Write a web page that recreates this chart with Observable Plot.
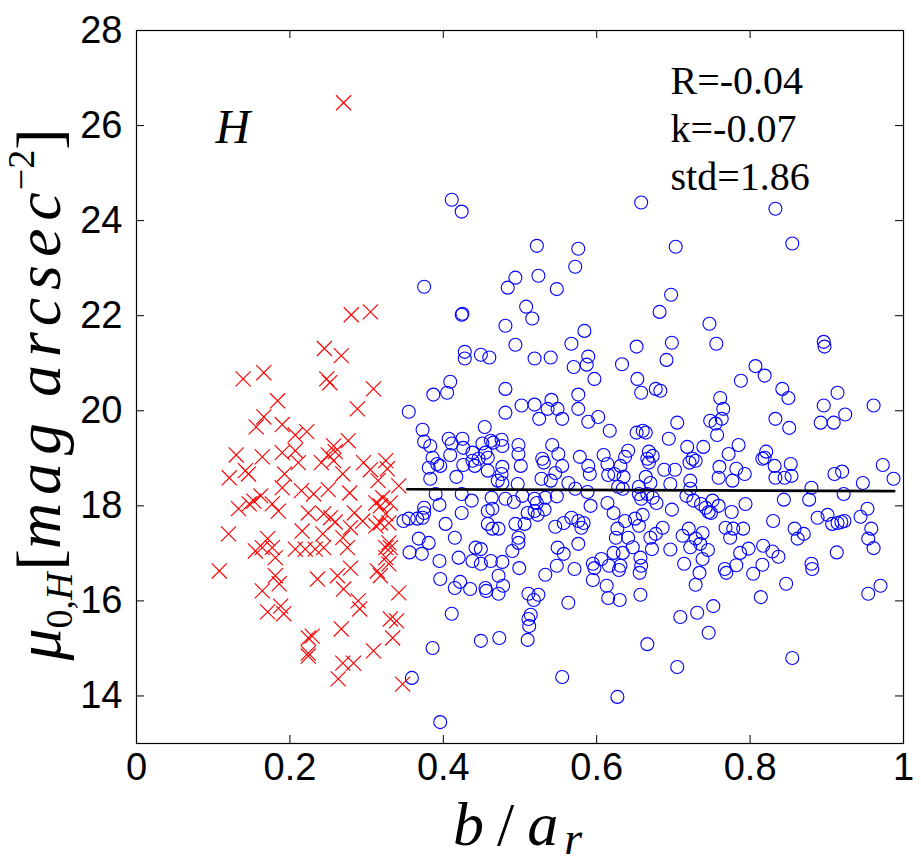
<!DOCTYPE html>
<html><head><meta charset="utf-8">
<script src="https://cdn.jsdelivr.net/npm/d3@7"></script>
<script src="https://cdn.jsdelivr.net/npm/@observablehq/plot@0.6"></script>
<style>body{margin:0;background:#fff}</style>
</head><body><div id="chart"></div>
<script>
const xTicks = [0, 0.2, 0.4, 0.6, 0.8, 1];
const xTickLabels = ["0", "0.2", "0.4", "0.6", "0.8", "1"];
const yTicks = [14, 16, 18, 20, 22, 24, 26, 28];
const statsLines = ["R=-0.04", "k=-0.07", "std=1.86"];
const bandLabel = "H";
const fitX = [0.353, 0.988];
const fitY = [18.35, 18.31];

const redPoints = [
[0.270,26.48],[0.280,22.02],[0.305,22.08],[0.245,21.31],[0.267,21.16],[0.139,20.67],[0.166,20.80],[0.248,20.67],[0.252,20.59],[0.309,20.46],
[0.184,20.21],[0.288,20.04],[0.166,19.87],[0.156,19.66],[0.190,19.71],[0.207,19.49],[0.222,19.56],[0.276,19.37],[0.257,19.26],[0.130,19.07],
[0.164,19.03],[0.190,19.12],[0.207,19.16],[0.211,18.91],[0.250,19.07],[0.259,19.14],[0.241,18.91],[0.257,18.95],[0.296,18.91],[0.121,18.59],
[0.142,18.74],[0.146,18.67],[0.193,18.67],[0.269,18.67],[0.305,18.76],[0.315,18.53],[0.190,18.38],[0.215,18.32],[0.231,18.25],[0.250,18.34],
[0.278,18.27],[0.153,18.10],[0.162,18.21],[0.133,17.94],[0.147,18.04],[0.177,18.04],[0.185,17.89],[0.224,17.85],[0.244,17.83],[0.253,17.75],
[0.259,17.66],[0.284,17.85],[0.295,17.68],[0.279,17.54],[0.312,18.06],[0.312,17.58],[0.120,17.41],[0.216,17.47],[0.243,17.41],[0.269,17.33],
[0.171,17.31],[0.164,17.12],[0.155,17.05],[0.177,17.12],[0.207,17.09],[0.220,17.09],[0.233,17.09],[0.244,17.12],[0.275,17.12],[0.108,16.63],
[0.181,16.91],[0.279,16.69],[0.262,16.53],[0.236,16.46],[0.181,16.53],[0.186,16.36],[0.164,16.21],[0.270,16.25],[0.289,16.00],[0.291,15.83],
[0.171,15.77],[0.188,15.89],[0.192,15.73],[0.267,15.41],[0.224,15.22],[0.229,15.26],[0.224,14.84],[0.224,14.90],[0.269,14.69],[0.283,14.69],
[0.263,14.36],[0.309,14.95],[0.314,16.63],[0.325,16.91],[0.329,16.78],[0.318,16.53],[0.342,16.17],[0.331,15.62],[0.339,15.58],[0.334,15.22],
[0.347,14.25],[0.325,18.95],[0.327,18.78],[0.342,18.42],[0.321,18.17],[0.331,18.06],[0.318,18.00],[0.325,17.83],[0.318,17.64],[0.329,17.64],
[0.329,17.22],[0.325,17.12],[0.331,17.12]
];

const bluePoints = [
[0.411,24.44],[0.424,24.19],[0.658,24.38],[0.833,24.25],[0.855,23.52],[0.576,23.41],[0.572,23.03],[0.703,23.45],[0.548,22.56],[0.697,22.44],
[0.682,22.08],[0.747,21.83],[0.584,21.68],[0.567,21.41],[0.652,21.35],[0.698,21.43],[0.756,21.41],[0.589,21.14],[0.570,20.92],[0.587,20.97],
[0.633,20.98],[0.691,21.07],[0.522,23.47],[0.375,22.61],[0.494,22.80],[0.484,22.59],[0.524,22.84],[0.424,22.02],[0.425,22.04],[0.508,22.19],
[0.516,21.94],[0.481,21.79],[0.494,21.39],[0.428,21.24],[0.428,21.10],[0.449,21.18],[0.460,21.12],[0.519,21.10],[0.540,21.12],[0.896,21.45],
[0.897,21.35],
[0.409,20.61],[0.387,20.34],[0.405,20.38],[0.481,20.46],[0.355,19.98],[0.481,19.96],[0.502,20.11],[0.519,20.13],[0.525,19.83],[0.541,20.23],
[0.536,20.04],[0.549,20.04],[0.373,19.60],[0.454,19.66],[0.375,19.35],[0.383,19.26],[0.407,19.41],[0.411,19.31],[0.425,19.41],[0.426,19.22],
[0.451,19.31],[0.462,19.37],[0.465,19.33],[0.476,19.39],[0.477,19.26],[0.498,19.28],[0.498,19.09],[0.542,19.28],[0.386,19.01],[0.409,19.07],
[0.438,19.12],[0.438,18.95],[0.455,19.12],[0.458,19.01],[0.529,18.99],[0.531,18.91],[0.392,18.88],[0.396,18.84],[0.381,18.80],[0.426,18.86],
[0.441,18.84],[0.446,18.99],[0.458,18.74],[0.477,18.82],[0.501,18.84],[0.383,18.57],[0.417,18.61],[0.476,18.67],[0.471,18.53],[0.477,18.48],
[0.497,18.46],[0.528,18.57],[0.540,18.53],[0.390,18.25],[0.424,18.25],[0.463,18.17],[0.481,18.15],[0.492,18.08],[0.503,18.21],[0.519,18.15],
[0.533,18.17],[0.548,18.20],[0.395,18.02],[0.437,18.11],[0.522,18.06],[0.375,17.96],[0.458,17.89],[0.464,17.94],[0.519,17.89],[0.532,17.92],
[0.375,17.85],[0.424,17.85],[0.510,17.85],[0.523,17.81],[0.355,17.73],[0.348,17.68],[0.366,17.73],[0.373,17.75],[0.403,17.62],[0.458,17.62],
[0.464,17.52],[0.472,17.52],[0.494,17.62],[0.506,17.62],[0.546,17.56],[0.368,17.31],[0.381,17.22],[0.415,17.33],[0.498,17.33],[0.498,17.22],
[0.356,17.02],[0.372,16.99],[0.442,17.12],[0.449,17.09],[0.490,17.05],[0.549,17.12],
[0.395,16.84],[0.420,16.91],[0.438,16.84],[0.449,16.78],[0.462,16.84],[0.477,16.82],[0.499,16.69],[0.533,16.55],[0.548,16.74],[0.396,16.46],
[0.415,16.27],[0.422,16.40],[0.435,16.25],[0.455,16.27],[0.456,16.21],[0.472,16.53],[0.478,16.32],[0.472,16.15],[0.511,16.15],[0.524,16.13],
[0.518,16.02],[0.411,15.73],[0.514,15.71],[0.511,15.62],[0.512,15.47],[0.449,15.16],[0.473,15.22],[0.510,15.18],[0.386,15.01],[0.359,14.38],
[0.396,13.45],[0.555,14.40],
[0.557,16.99],[0.571,16.67],[0.595,16.78],[0.597,16.69],[0.606,16.88],[0.616,16.74],[0.622,17.01],[0.631,16.74],[0.629,16.65],[0.634,17.01],
[0.657,16.91],[0.658,16.74],[0.656,16.59],[0.714,16.78],[0.738,16.88],[0.734,16.59],[0.767,16.67],[0.769,16.59],[0.782,16.75],[0.595,16.44],
[0.613,16.32],[0.615,16.06],[0.630,16.02],[0.657,16.13],[0.729,16.34],[0.563,15.96],[0.709,15.66],[0.731,15.75],[0.752,15.89],[0.746,15.33],
[0.666,15.09],[0.705,14.61],[0.627,13.98],
[0.787,17.01],[0.816,16.76],[0.804,16.57],[0.837,16.93],[0.880,16.78],[0.881,16.67],[0.847,16.36],[0.814,16.08],[0.954,16.15],[0.970,16.32],
[0.855,14.80],
[0.597,20.67],[0.653,20.67],[0.658,20.38],[0.677,20.46],[0.683,20.42],[0.576,20.34],[0.576,20.04],[0.555,19.83],[0.602,19.87],[0.589,19.77],
[0.617,19.58],[0.652,19.54],[0.660,19.58],[0.664,19.54],[0.705,19.75],[0.694,19.41],[0.761,20.27],[0.765,20.04],[0.748,19.79],[0.755,19.73],
[0.763,19.83],[0.757,19.49],[0.788,20.63],[0.718,19.24],[0.739,19.24],[0.785,19.28],[0.550,19.09],[0.578,19.03],[0.609,19.07],[0.641,19.16],
[0.637,19.03],[0.668,19.14],[0.673,19.05],[0.666,18.99],[0.772,19.09],[0.555,18.84],[0.589,18.84],[0.614,18.88],[0.631,18.84],[0.668,18.91],
[0.721,18.91],[0.725,18.99],[0.729,18.95],[0.760,18.82],[0.782,18.78],[0.546,18.69],[0.591,18.67],[0.615,18.65],[0.623,18.67],[0.635,18.61],
[0.664,18.61],[0.688,18.76],[0.702,18.76],[0.759,18.59],[0.777,18.53],[0.563,18.48],[0.628,18.40],[0.634,18.36],[0.655,18.40],[0.670,18.48],
[0.696,18.46],[0.722,18.53],[0.722,18.36],[0.572,18.36],[0.588,18.29],[0.655,18.25],[0.658,18.15],[0.673,18.17],[0.666,18.25],[0.717,18.21],
[0.726,18.11],[0.678,18.06],[0.736,18.04],[0.742,17.96],[0.751,18.11],[0.759,18.00],[0.614,18.06],[0.592,18.00],[0.622,17.85],[0.698,17.92],
[0.746,17.87],[0.749,17.85],[0.776,17.87],[0.567,17.75],[0.576,17.68],[0.583,17.64],[0.557,17.64],[0.660,17.81],[0.650,17.73],[0.637,17.68],
[0.580,17.54],[0.627,17.52],[0.655,17.58],[0.686,17.54],[0.720,17.52],[0.738,17.43],[0.768,17.54],[0.778,17.52],[0.625,17.33],[0.641,17.33],
[0.670,17.33],[0.677,17.41],[0.712,17.37],[0.729,17.31],[0.774,17.33],[0.576,17.20],[0.647,17.13],[0.672,17.09],[0.696,17.08],[0.722,17.13],
[0.735,17.20],[0.745,17.07],
[0.807,20.94],[0.819,20.74],[0.842,20.46],[0.850,20.27],[0.914,20.38],[0.896,20.11],[0.961,20.11],[0.924,19.92],[0.833,19.83],[0.851,19.64],
[0.892,19.75],[0.909,19.75],[0.821,19.14],[0.816,18.99],[0.819,19.01],[0.832,18.84],[0.853,18.88],[0.833,18.59],[0.845,18.59],[0.854,18.63],
[0.793,18.67],[0.973,18.86],[0.987,18.57],[0.910,18.67],[0.920,18.72],[0.947,18.48],[0.880,18.38],[0.922,18.25],[0.844,18.13],[0.877,18.13],
[0.794,18.04],[0.953,17.94],[0.888,17.75],[0.901,17.81],[0.944,17.77],[0.830,17.68],[0.907,17.62],[0.914,17.64],[0.919,17.66],[0.923,17.68],
[0.791,17.52],[0.858,17.52],[0.870,17.41],[0.862,17.31],[0.958,17.52],[0.954,17.31],[0.961,17.11],[0.817,17.16],[0.829,17.04],[0.913,17.02],
[0.798,17.10]
];

const W = 921, H = 865, mL = 136, mR = 18, mT = 30, mB = 122;
const innerW = W - mL - mR, innerH = H - mT - mB;
const tickLen = 8;
const sans = "'Liberation Sans', Arial, Helvetica, sans-serif";
const serif = "'Liberation Serif', 'DejaVu Serif', serif";

const chart = Plot.plot({
  width: W, height: H,
  marginLeft: mL, marginRight: mR, marginTop: mT, marginBottom: mB,
  x: {domain: [0, 1]},
  y: {domain: [13, 28]},
  style: {fontFamily: sans, background: "white", color: "black"},
  marks: [
    Plot.dot(bluePoints, {x: d => d[0], y: d => d[1], r: 6.5, stroke: "#0000ff", fill: "none", strokeWidth: 1.1}),
    Plot.dot(redPoints, {x: d => d[0], y: d => d[1], r: 6.9, symbol: "times", stroke: "#ff0000", strokeWidth: 1.15}),
    Plot.line(fitX.map((x, i) => ({x, y: fitY[i]})), {x: "x", y: "y", stroke: "black", strokeWidth: 2.6}),
    Plot.tickX(xTicks, {x: d => d, insetTop: innerH - tickLen, stroke: "black"}),
    Plot.tickX(xTicks, {x: d => d, insetBottom: innerH - tickLen, stroke: "black"}),
    Plot.tickY(yTicks, {y: d => d, insetRight: innerW - tickLen, stroke: "black"}),
    Plot.tickY(yTicks, {y: d => d, insetLeft: innerW - tickLen, stroke: "black"}),
    Plot.frame({stroke: "black", strokeWidth: 1.2}),
    Plot.axisX(xTicks, {tickSize: 0, tickPadding: 10, fontSize: 38, tickFormat: d => xTickLabels[xTicks.indexOf(d)], label: null}),
    Plot.axisY(yTicks, {tickSize: 0, tickPadding: 14, fontSize: 38, label: null}),
    Plot.text([bandLabel], {frameAnchor: "top-left", dx: 79, dy: 78, lineAnchor: "top", textAnchor: "start", fontSize: 48, fontStyle: "italic", fontFamily: serif}),
    Plot.text([statsLines.join("\n")], {frameAnchor: "top-left", dx: 534, dy: 29, lineAnchor: "top", textAnchor: "start", fontSize: 40, lineHeight: 1.2, fontFamily: serif, style: "letter-spacing:2px"})
  ]
});

const svg = d3.select(chart);
// y axis label
const yl = svg.append("text")
  .attr("transform", `translate(60, ${mT + innerH / 2 + 8}) rotate(-90)`)
  .attr("text-anchor", "middle")
  .attr("font-family", serif)
  .attr("font-size", 64)
  .attr("fill", "black");
yl.append("tspan").attr("font-style", "italic").text("μ");
yl.append("tspan").attr("font-size", 38).attr("dy", 12).text("0,");
yl.append("tspan").attr("font-size", 38).attr("font-style", "italic").text("H");
yl.append("tspan").attr("dy", -12).attr("dx", 2).text("[");
yl.append("tspan").attr("font-style", "italic").attr("letter-spacing", 8).attr("word-spacing", -6).text("mag arcsec");
yl.append("tspan").attr("font-size", 38).attr("dy", -26).attr("dx", -6).text("−2");
yl.append("tspan").attr("dy", 26).text("]");

// x axis label
const xl = svg.append("text")
  .attr("x", mL + innerW / 2 - 2)
  .attr("y", 845)
  .attr("text-anchor", "middle")
  .attr("font-family", serif)
  .attr("font-size", 62)
  .attr("fill", "black");
xl.append("tspan").attr("font-style", "italic").text("b");
xl.append("tspan").attr("dx", 13).text("/");
xl.append("tspan").attr("dx", 13).attr("font-style", "italic").text("a");
xl.append("tspan").attr("font-style", "italic").attr("font-size", 46).attr("dx", 6).attr("dy", 9).text("r");

document.getElementById("chart").appendChild(chart);
</script>
</body></html>
